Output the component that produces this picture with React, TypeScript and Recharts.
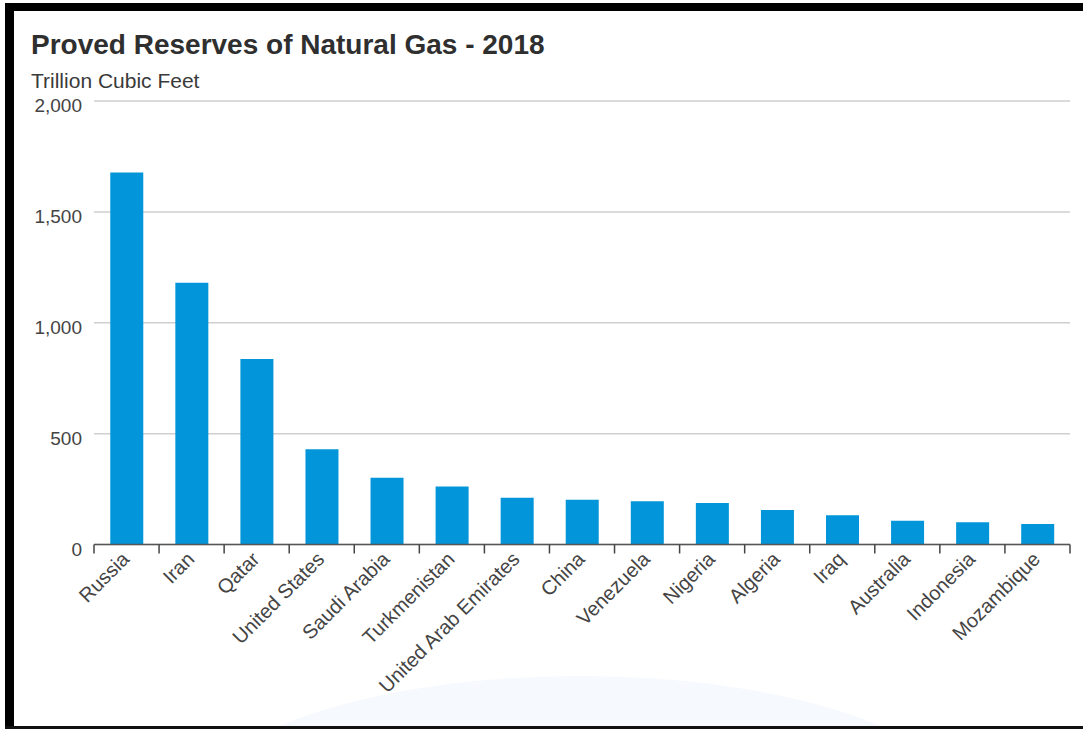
import React from "react"
import { BarChart, Bar, XAxis, YAxis, CartesianGrid } from "recharts"

// Proved reserves of natural gas, 2018 (trillion cubic feet)
const countries = [
    "Russia",
    "Iran",
    "Qatar",
    "United States",
    "Saudi Arabia",
    "Turkmenistan",
    "United Arab Emirates",
    "China",
    "Venezuela",
    "Nigeria",
    "Algeria",
    "Iraq",
    "Australia",
    "Indonesia",
    "Mozambique",
]
const reserves = [1678, 1180, 836, 429, 301, 261, 211, 202, 195, 187, 156, 132, 107, 100, 92]
const yTicks = [0, 500, 1000, 1500, 2000]

const chartData = countries.map((name, i) => ({ name, value: reserves[i] }))

const FONT = '"Liberation Sans", Arial, Helvetica, sans-serif'
const BAR_COLOR = "#0395d9"
const TEXT_COLOR = "#444"

const YTick = (props: { x?: number; y?: number; payload?: { value: number } }) => {
    const { x = 0, y = 0, payload } = props
    return (
        <text x={x} y={y + 6} textAnchor="end" dominantBaseline="middle" fontSize={19} fill={TEXT_COLOR} fontFamily={FONT}>
            {(payload?.value ?? 0).toLocaleString("en-US")}
        </text>
    )
}

// rotated category label ending under the bar centre, plus tick marks on the category boundaries
const XTick = (props: {
    x?: number
    y?: number
    width?: number
    index?: number
    visibleTicksCount?: number
    payload?: { value: string }
}) => {
    const { x = 0, y = 0, width = 0, index = 0, visibleTicksCount = 1, payload } = props
    const half = width / visibleTicksCount / 2
    const isLast = index === visibleTicksCount - 1
    return (
        <g>
            <line x1={x - half} x2={x - half} y1={y} y2={y + 9} stroke="#444" strokeWidth={1.5} />
            {isLast && <line x1={x + half} x2={x + half} y1={y} y2={y + 9} stroke="#444" strokeWidth={1.5} />}
            <g transform={`translate(${x - 1},${y + 11})`}>
                <text
                    x={0}
                    y={0}
                    dy="0.35em"
                    textAnchor="end"
                    transform="rotate(-45)"
                    fontSize={20}
                    fill={TEXT_COLOR}
                    fontFamily={FONT}
                >
                    {payload?.value}
                </text>
            </g>
        </g>
    )
}

export default function App() {
    return (
        <div
            style={{
                position: "absolute",
                left: 0,
                top: 0,
                width: 1083,
                height: 729,
                background: "#fff",
                overflow: "hidden",
                fontFamily: FONT,
            }}
        >
            {/* faint watermark arc near the bottom */}
            <div
                style={{
                    position: "absolute",
                    left: 200,
                    top: 676,
                    width: 760,
                    height: 260,
                    borderRadius: "50%",
                    background: "#f6f9fd",
                }}
            />

            {/* frame */}
            <div style={{ position: "absolute", left: 5, top: 3, width: 1078, height: 8, background: "#000" }} />
            <div style={{ position: "absolute", left: 5, top: 3, width: 9, height: 726, background: "#000" }} />
            <div style={{ position: "absolute", left: 5, top: 726, width: 1078, height: 3, background: "#111" }} />

            <div
                style={{
                    position: "absolute",
                    left: 31,
                    top: 29,
                    fontSize: 28,
                    fontWeight: 700,
                    color: "#2f2f2f",
                    whiteSpace: "nowrap",
                    lineHeight: "32px",
                }}
            >
                Proved Reserves of Natural Gas - 2018
            </div>
            <div
                style={{
                    position: "absolute",
                    left: 31,
                    top: 69,
                    fontSize: 21,
                    color: "#3a3a3a",
                    whiteSpace: "nowrap",
                    lineHeight: "24px",
                }}
            >
                Trillion Cubic Feet
            </div>

            <div style={{ position: "absolute", left: 0, top: 0 }}>
                <BarChart
                    width={1083}
                    height={729}
                    data={chartData}
                    margin={{ top: 101, right: 13, left: 14, bottom: 4.5 }}
                    barCategoryGap="25%"
                >
                    <CartesianGrid horizontal vertical={false} stroke="#cfcfcf" strokeWidth={1.5} />
                    <XAxis
                        dataKey="name"
                        interval={0}
                        height={180}
                        tickLine={false}
                        tickSize={0}
                        tickMargin={0}
                        axisLine={{ stroke: "#555", strokeWidth: 1.5 }}
                        tick={<XTick />}
                    />
                    <YAxis
                        width={80}
                        domain={[0, 2000]}
                        ticks={yTicks}
                        axisLine={false}
                        tickLine={false}
                        tickMargin={6}
                        tick={<YTick />}
                    />
                    <Bar dataKey="value" fill={BAR_COLOR} isAnimationActive={false} />
                </BarChart>
            </div>
        </div>
    )
}
